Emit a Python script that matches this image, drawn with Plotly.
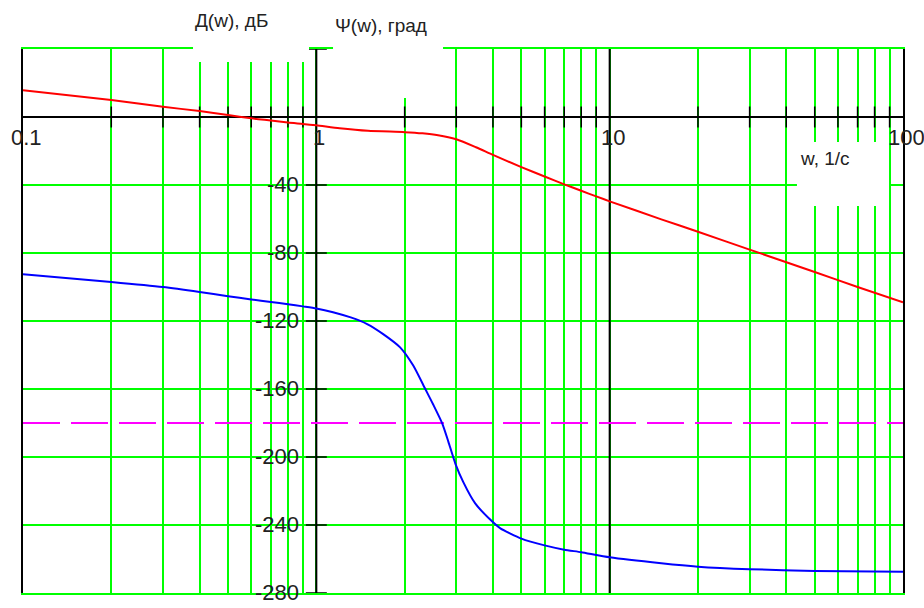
import math
import plotly.graph_objects as go

# ---- data ----
amp_w = [0.1, 0.2, 0.3, 0.4, 0.5, 0.6, 0.7, 0.8, 0.9, 1.0, 1.2, 1.5, 2.0, 2.3, 2.6, 3.0, 3.5,
         4.0, 5.0, 6.0, 7.0, 8.0, 9.0, 10, 15, 20, 30, 50, 70, 100]
amp_db = [15.8, 10.0, 6.0, 3.5, 1.2, -0.8, -2.1, -3.3, -4.1, -4.9, -6.6, -8.1, -8.9, -9.6, -10.7,
          -13.1, -17.8, -22.3, -29.5, -35.0, -39.6, -43.4, -46.7, -49.6, -60.2, -67.5, -78.0,
          -91.2, -100.0, -109.0]

ph_w = [0.1, 0.2, 0.3, 0.4, 0.5, 0.6, 0.7, 0.8, 0.9, 1.0, 1.14, 1.31, 1.49, 1.69, 1.93, 2.14,
        2.35, 2.5, 2.69, 2.82, 2.98, 3.17, 3.48, 3.98, 4.24, 5, 6, 7, 8, 10, 15, 20, 30, 50, 100]
ph_deg = [-92.5, -97.0, -100.0, -102.9, -105.4, -107.3, -108.8, -110.1, -111.4, -112.6, -114.8,
          -117.9, -121.8, -127.7, -135.5, -146.2, -159.9, -169.0, -180.5, -191.1, -204.0,
          -214.8, -227.3, -238.0, -242.0, -248, -252, -254.5, -256, -259, -262.5, -264.5,
          -266, -267, -267.5]

ref_w = [0.1, 100]
ref_deg = [-180, -180]

x_tick_vals = [0.1, 1, 10, 100]
x_tick_text = ["0.1", "1", "10", "100"]
y_tick_vals = [-40, -80, -120, -160, -200, -240, -280]
y_tick_text = ["-40", "-80", "-120", "-160", "-200", "-240", "-280"]
y_marks = [40, 0, -40, -80, -120, -160, -200, -240, -280]
minor_x = [m * 10 ** d for d in (-1, 0, 1) for m in range(2, 10)]
decades = [1, 10]

GREEN = "#00ff00"
FONT = "Liberation Sans, Arial, sans-serif"

fig = go.Figure()

# black decade lines
for d in decades:
    fig.add_trace(go.Scatter(x=[d, d], y=[-280, 40], mode="lines",
                             line=dict(color="black", width=2), hoverinfo="skip"))

# tick marks on the axes
fig.add_trace(go.Scatter(x=minor_x, y=[0] * len(minor_x), mode="markers",
                         marker=dict(symbol="line-ns", size=15, line=dict(color="black", width=1.5)),
                         cliponaxis=False, hoverinfo="skip"))
fig.add_trace(go.Scatter(x=[1] * len(y_marks), y=y_marks, mode="markers",
                         marker=dict(symbol="line-ew", size=15, line=dict(color="black", width=1.5)),
                         cliponaxis=False, hoverinfo="skip"))

# curves
fig.add_trace(go.Scatter(x=ref_w, y=ref_deg, mode="lines",
                         line=dict(color="#ff00ff", width=2, dash="37px,11px")))
fig.add_trace(go.Scatter(x=amp_w, y=amp_db, mode="lines",
                         line=dict(color="#ff0000", width=2, shape="spline", smoothing=0.6)))
fig.add_trace(go.Scatter(x=ph_w, y=ph_deg, mode="lines",
                         line=dict(color="#0000ff", width=2, shape="spline", smoothing=0.6)))

def xpaper(v):
    return (math.log10(v) + 1) / 3

annotations = []
for v, t in zip(x_tick_vals, x_tick_text):
    annotations.append(dict(x=xpaper(v), xref="paper", y=0, yref="y", text=t,
                            showarrow=False, xanchor="center", yanchor="middle",
                            xshift=3, yshift=-20, font=dict(family=FONT, size=22, color="#222222")))
for v, t in zip(y_tick_vals, y_tick_text):
    annotations.append(dict(x=xpaper(1), xref="paper", y=v, yref="y", text=t,
                            showarrow=False, xanchor="right", yanchor="middle",
                            xshift=-15, yshift=1, font=dict(family=FONT, size=22, color="#222222")))

annotations += [
    dict(x=0.1932, y=1.0533, xref="paper", yref="paper", text="Д(w), дБ", showarrow=False,
         xanchor="left", yanchor="middle", font=dict(family=FONT, size=19, color="#222222")),
    dict(x=0.3523, y=1.0441, xref="paper", yref="paper", text="Ψ(w), град", showarrow=False,
         xanchor="left", yanchor="middle", font=dict(family=FONT, size=19, color="#222222")),
    dict(x=0.8807, y=0.7978, xref="paper", yref="paper", text="w, 1/c", showarrow=False,
         xanchor="left", yanchor="middle", font=dict(family=FONT, size=19, color="#222222")),
]

shapes = [
    dict(type="rect", xref="paper", yref="paper", x0=0.1932, x1=0.325, y0=0.976, y1=1.09,
         fillcolor="white", line=dict(width=0), layer="above"),
    dict(type="rect", xref="paper", yref="paper", x0=0.3523, x1=0.4773, y0=0.9099, y1=1.09,
         fillcolor="white", line=dict(width=0), layer="above"),
    dict(type="rect", xref="paper", yref="paper", x0=0.8795, x1=0.9841, y0=0.7114, y1=0.829,
         fillcolor="white", line=dict(width=0), layer="above"),
]

fig.update_layout(
    width=924, height=608, autosize=False,
    margin=dict(l=23, r=21, t=49, b=15),
    paper_bgcolor="white", plot_bgcolor="white",
    showlegend=False, hovermode=False,
    annotations=annotations, shapes=shapes,
    xaxis=dict(type="log", range=[-1, 2], dtick="D1", showgrid=True, gridcolor=GREEN,
               gridwidth=2, showticklabels=False, ticks="", showline=True, mirror=True,
               linecolor=GREEN, linewidth=2, zeroline=False),
    yaxis=dict(range=[-280, 40], dtick=40, tick0=0, showgrid=True, gridcolor=GREEN,
               gridwidth=2, showticklabels=False, ticks="", zeroline=True,
               zerolinecolor="black", zerolinewidth=2, showline=True, mirror=True,
               linecolor="black", linewidth=2),
)

fig.write_html("out.html")
